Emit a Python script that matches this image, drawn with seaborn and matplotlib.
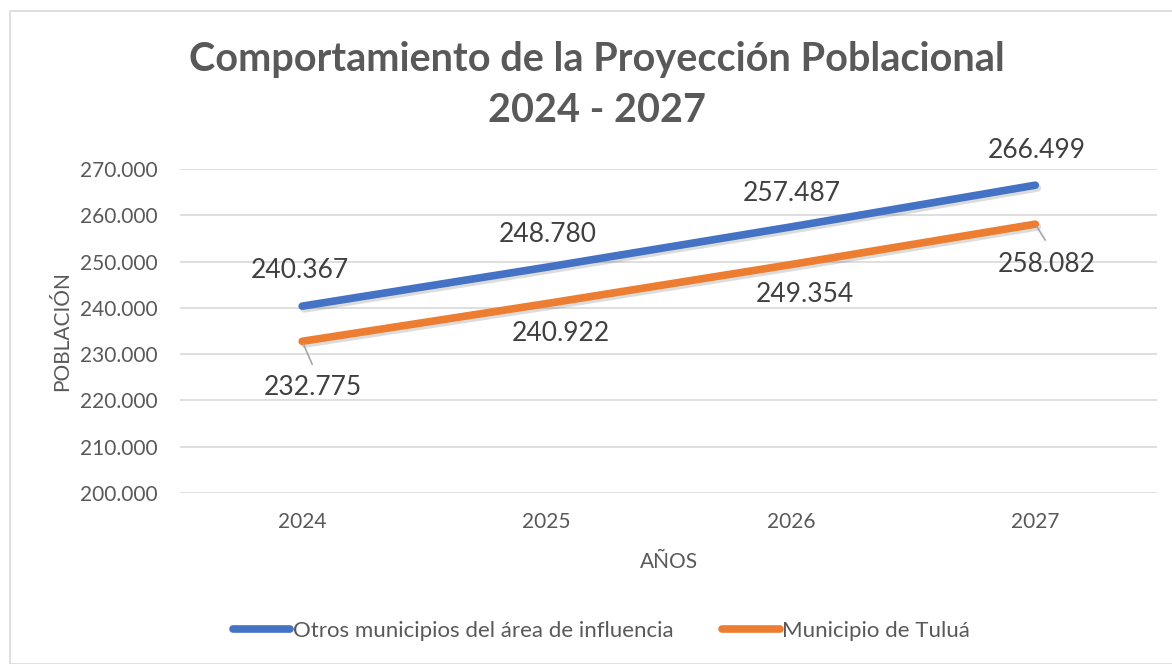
import matplotlib
matplotlib.use("Agg")
import matplotlib.pyplot as plt
import matplotlib.patheffects as pe
from matplotlib.lines import Line2D
from matplotlib.patches import Rectangle
import pandas as pd
import seaborn as sns

years = ["2024", "2025", "2026", "2027"]
otros = [240367, 248780, 257487, 266499]
tulua = [232775, 240922, 249354, 258082]
series_names = ["Otros municipios del área de influencia", "Municipio de Tuluá"]
colors = ["#4472C4", "#ED7D31"]
yticks = [200000, 210000, 220000, 230000, 240000, 250000, 260000, 270000]

df = pd.DataFrame({
    "year": years * 2,
    "value": otros + tulua,
    "serie": [series_names[0]] * 4 + [series_names[1]] * 4,
})

sns.set_theme(style="white")
plt.rcParams["font.family"] = ["Lato", "DejaVu Sans"]
text_col = "#595959"

fig = plt.figure(figsize=(11.72, 6.64), dpi=100)
ax = fig.add_axes([0.1536, 0.2575, 0.834, 0.488])

shadow = [pe.SimpleLineShadow(offset=(1.5, -2), alpha=0.15, rho=0.3), pe.Normal()]
sns.lineplot(data=df, x="year", y="value", hue="serie", palette=colors,
             linewidth=5.5, ax=ax, legend=False, sort=False)
for ln in ax.lines:
    ln.set_solid_capstyle("round")
    ln.set_path_effects(shadow)

def fmt(v):
    return f"{v:,}".replace(",", ".")

# etiquetas de datos (desplazamiento en pixeles)
blue_off = [(-2, 36), (1, 33), (1, 33), (1, 35)]
orange_off = [(11, -46), (14, -30), (14, -30), (11, -40)]
for i, v in enumerate(otros):
    ax.annotate(fmt(v), (i, v), xytext=blue_off[i], textcoords="offset pixels",
                ha="center", va="center", fontsize=19, color="#404040")
for i, v in enumerate(tulua):
    ax.annotate(fmt(v), (i, v), xytext=orange_off[i], textcoords="offset pixels",
                ha="center", va="center", fontsize=19, color="#404040")
# lineas guia
ax.annotate("", (0, tulua[0]), xytext=(10, -23), textcoords="offset pixels",
            arrowprops=dict(arrowstyle="-", color="#A6A6A6", lw=1.2, shrinkA=0, shrinkB=2))
ax.annotate("", (3, tulua[3]), xytext=(10, -16), textcoords="offset pixels",
            arrowprops=dict(arrowstyle="-", color="#A6A6A6", lw=1.2, shrinkA=0, shrinkB=2))

ax.set_xlim(-0.5, 3.5)
ax.set_ylim(200000, 270000)
ax.set_yticks(yticks)
ax.set_yticklabels([fmt(t) for t in yticks])
ax.grid(axis="y", color="#D9D9D9", linewidth=1.2)
ax.set_axisbelow(True)
for s in ax.spines.values():
    s.set_visible(False)
ax.tick_params(axis="both", length=0, labelsize=15, colors=text_col)
ax.tick_params(axis="x", pad=14)
ax.tick_params(axis="y", pad=16)
ax.set_xlabel("AÑOS", fontsize=15, color=text_col, labelpad=14)
ax.set_ylabel("POBLACIÓN", fontsize=15, color=text_col, labelpad=6)

fig.text(0.509, 1 - 60 / 664, "Comportamiento de la Proyección Poblacional", ha="center", va="center",
         fontsize=28.5, fontweight="bold", color=text_col)
fig.text(0.509, 1 - 110 / 664, "2024 - 2027", ha="center", va="center",
         fontsize=28.5, fontweight="bold", color=text_col)

handles = [Line2D([0], [0], color=c, lw=5.5, solid_capstyle="round") for c in colors]
fig.legend(handles, series_names, loc="center", bbox_to_anchor=(0.513, 1 - 631 / 664),
           ncol=2, frameon=False, fontsize=16, handlelength=2.6, handletextpad=0.1,
           columnspacing=2.2, labelcolor=text_col)

fig.patches.append(Rectangle((10 / 1172, 0), 1.2, 1 - 11 / 664, transform=fig.transFigure,
                             fill=False, edgecolor="#D9D9D9", linewidth=1.2))

fig.savefig("out.png", dpi=100)
